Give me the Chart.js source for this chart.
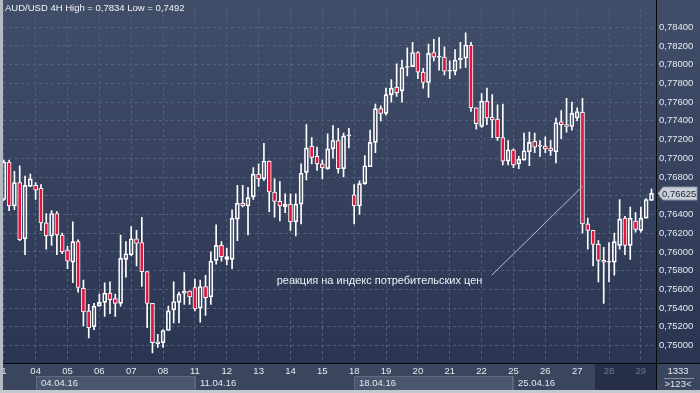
<!DOCTYPE html>
<html>
<head>
<meta charset="utf-8">
<script src="https://cdn.jsdelivr.net/npm/chart.js@4.4.1/dist/chart.umd.min.js"></script>
<style>
  html, body { margin: 0; padding: 0; background: #3a465e; }
</style>
</head>
<body>
<canvas id="AudChart" width="700" height="393"></canvas>
<script>
// AUD/USD 4H candles, 01.04.16 - 29.04.16

const days = ['1','04','05','06','07','08','11','12','13','14','15','18','19','20','21','22','25','26','27','28','29'];
const dayCandles = [6,6,6,6,6,6,6,6,6,6,6,6,6,6,6,6,6,6,6,6,3];
const weeks = ['04.04.16','11.04.16','18.04.16','25.04.16'];
const weekStartDay = [1, 6, 11, 16];

const open = [
  0.7656,0.7696,0.7649,0.7674,0.7614,0.7670, 0.7671,0.7668,0.7631,0.7617,0.7641,0.7618,
  0.7602,0.7589,0.7611,0.7561,0.7537,0.7520, 0.7542,0.7546,0.7556,0.7550,0.7545,0.7592,
  0.7597,0.7614,0.7610,0.7579,0.7545,0.7502, 0.7503,0.7516,0.7538,0.7546,0.7556,0.7558,
  0.7562,0.7540,0.7563,0.7552,0.7591,0.7607, 0.7592,0.7592,0.7635,0.7652,0.7649,0.7659,
  0.7683,0.7678,0.7697,0.7664,0.7654,0.7648, 0.7651,0.7632,0.7651,0.7685,0.7713,0.7702,
  0.7694,0.7689,0.7710,0.7719,0.7689,0.7724, 0.7661,0.7649,0.7673,0.7691,0.7717,0.7753,
  0.7748,0.7768,0.7776,0.7772,0.7797,0.7798, 0.7813,0.7792,0.7781,0.7813,0.7808,0.7808,
  0.7793,0.7793,0.7805,0.7807,0.7821,0.7754, 0.7734,0.7761,0.7744,0.7742,0.7722,0.7697,
  0.7709,0.7694,0.7698,0.7707,0.7718,0.7713, 0.7713,0.7711,0.7707,0.7739,0.7736,0.7734,
  0.7743,0.7749,0.7630,0.7623,0.7608,0.7591, 0.7589,0.7589,0.7607,0.7636,0.7607,0.7633,
  0.7623,0.7636,0.7655
];
const high = [
  0.7698,0.7698,0.7686,0.7692,0.7681,0.7683, 0.7674,0.7672,0.7641,0.7644,0.7643,0.7620,
  0.7606,0.7632,0.7613,0.7570,0.7544,0.7545, 0.7555,0.7567,0.7568,0.7555,0.7618,0.7611,
  0.7627,0.7623,0.7637,0.7579,0.7545,0.7512, 0.7517,0.7542,0.7568,0.7557,0.7578,0.7558,
  0.7571,0.7570,0.7575,0.7600,0.7629,0.7611, 0.7604,0.7645,0.7671,0.7671,0.7669,0.7690,
  0.7694,0.7716,0.7697,0.7678,0.7675,0.7662, 0.7662,0.7662,0.7694,0.7736,0.7722,0.7712,
  0.7698,0.7726,0.7735,0.7732,0.7727,0.7732, 0.7672,0.7676,0.7703,0.7730,0.7758,0.7756,
  0.7775,0.7784,0.7801,0.7805,0.7818,0.7824, 0.7814,0.7796,0.7822,0.7827,0.7829,0.7819,
  0.7804,0.7816,0.7824,0.7834,0.7824,0.7754, 0.7769,0.7775,0.7768,0.7757,0.7758,0.7719,
  0.7710,0.7702,0.7727,0.7728,0.7727,0.7719, 0.7723,0.7719,0.7743,0.7751,0.7764,0.7760,
  0.7754,0.7764,0.7636,0.7623,0.7612,0.7605, 0.7610,0.7620,0.7656,0.7638,0.7648,0.7642,
  0.7648,0.7657,0.7667
];
const low = [
  0.7655,0.7644,0.7645,0.7612,0.7597,0.7670, 0.7656,0.7623,0.7603,0.7607,0.7597,0.7598,
  0.7582,0.7567,0.7557,0.7521,0.7508,0.7517, 0.7542,0.7531,0.7534,0.7531,0.7542,0.7573,
  0.7596,0.7585,0.7563,0.7519,0.7492,0.7498, 0.7498,0.7516,0.7524,0.7524,0.7544,0.7544,
  0.7537,0.7525,0.7532,0.7544,0.7587,0.7590, 0.7586,0.7582,0.7612,0.7648,0.7618,0.7656,
  0.7670,0.7676,0.7643,0.7637,0.7633,0.7642, 0.7623,0.7617,0.7630,0.7677,0.7694,0.7687,
  0.7678,0.7688,0.7700,0.7684,0.7680,0.7711, 0.7630,0.7640,0.7672,0.7691,0.7706,0.7740,
  0.7746,0.7760,0.7766,0.7760,0.7788,0.7798, 0.7785,0.7775,0.7765,0.7804,0.7794,0.7789,
  0.7785,0.7789,0.7796,0.7797,0.7750,0.7731, 0.7733,0.7736,0.7722,0.7719,0.7693,0.7693,
  0.7690,0.7689,0.7698,0.7692,0.7706,0.7702, 0.7706,0.7703,0.7695,0.7721,0.7728,0.7730,
  0.7740,0.7620,0.7603,0.7585,0.7568,0.7545, 0.7568,0.7575,0.7603,0.7597,0.7592,0.7621,
  0.7621,0.7636,0.7655
];
const close = [
  0.7696,0.7649,0.7674,0.7613,0.7671,0.7678, 0.7666,0.7631,0.7617,0.7641,0.7618,0.7600,
  0.7590,0.7611,0.7562,0.7536,0.7519,0.7542, 0.7546,0.7556,0.7549,0.7545,0.7593,0.7598,
  0.7614,0.7609,0.7579,0.7545,0.7503,0.7504, 0.7516,0.7537,0.7547,0.7555,0.7558,0.7552,
  0.7539,0.7563,0.7551,0.7590,0.7607,0.7595, 0.7595,0.7636,0.7652,0.7649,0.7658,0.7683,
  0.7678,0.7697,0.7664,0.7654,0.7649,0.7651, 0.7632,0.7651,0.7684,0.7711,0.7701,0.7694,
  0.7690,0.7710,0.7719,0.7689,0.7724,0.7725, 0.7649,0.7673,0.7692,0.7717,0.7753,0.7748,
  0.7768,0.7775,0.7770,0.7797,0.7798,0.7813, 0.7792,0.7781,0.7812,0.7808,0.7809,0.7793,
  0.7794,0.7805,0.7807,0.7821,0.7754,0.7737, 0.7761,0.7743,0.7741,0.7722,0.7697,0.7709,
  0.7693,0.7699,0.7708,0.7717,0.7712,0.7714, 0.7710,0.7708,0.7738,0.7736,0.7734,0.7748,
  0.7750,0.7630,0.7623,0.7608,0.7591,0.7589, 0.7590,0.7611,0.7635,0.7607,0.7636,0.7624,
  0.7636,0.7656,0.76625
];

const yTicks = [0.750,0.752,0.754,0.756,0.758,0.760,0.762,0.764,0.766,0.768,0.770,0.772,0.774,0.776,0.778,0.780,0.782,0.784];

const title = 'AUD/USD 4H High = 0,7834 Low = 0,7492';
const note = 'реакция на индекс потребительских цен';
// note anchor: text start (candle index, price) and arrow tip
const noteText = [51.4, 0.7569];
const noteFrom = [91.9, 0.7575];
const noteTo = [109, 0.7670];

// derived
const idx = open.map((v, i) => i);
const dayStart = [];
let n = 0;
dayCandles.forEach(c => { dayStart.push(n); n += c; });

const RED = '#e0163e';
const bodies = idx.map(i => ({ x: i, y: [open[i], close[i]] }));
const upperWicks = idx.map(i => ({ x: i, y: [Math.max(open[i], close[i]), high[i]] }));
const lowerWicks = idx.map(i => ({ x: i, y: [low[i], Math.min(open[i], close[i])] }));
const bodyFill = idx.map(i => close[i] < open[i] ? RED : 'rgba(0,0,0,0)');

const FONT = { family: 'Liberation Sans, Arial, sans-serif', size: 9.5 };
const fmt = v => v.toFixed(5).replace('.', ',');

const frame = {
  id: 'frame',
  beforeDraw(chart) {
    const ctx = chart.ctx, a = chart.chartArea, W = chart.width, H = chart.height;
    const xs = chart.scales.x;
    ctx.save();
    ctx.fillStyle = '#3a465e';
    ctx.fillRect(0, 0, W, H);
    const g = ctx.createLinearGradient(0, 0, 0, a.bottom);
    g.addColorStop(0, '#414e69');
    g.addColorStop(1, '#2a3552');
    ctx.fillStyle = g;
    ctx.fillRect(0, 0, W, a.bottom);
    // week boxes
    const darkLeft = a.right - 61;
    weeks.forEach((w, k) => {
      const x0 = Math.round(xs.getPixelForValue(dayStart[weekStartDay[k]]));
      const x1 = k + 1 < weeks.length ? Math.round(xs.getPixelForValue(dayStart[weekStartDay[k + 1]])) : darkLeft;
      if (k % 2 === 0) {
        ctx.fillStyle = '#4a566e';
        ctx.fillRect(x0, 376, x1 - x0, 14);
        ctx.strokeStyle = '#5f6a82';
        ctx.lineWidth = 1;
        ctx.strokeRect(x0 + 0.5, 376.5, x1 - x0 - 1, 14);
      } else {
        ctx.strokeStyle = '#56617a';
        ctx.beginPath();
        ctx.moveTo(x0 + 0.5, 376); ctx.lineTo(x0 + 0.5, 390);
        ctx.stroke();
      }
      ctx.fillStyle = '#e4e8ef';
      ctx.font = '9.5px Liberation Sans, Arial, sans-serif';
      ctx.textBaseline = 'middle';
      ctx.textAlign = 'left';
      ctx.fillText(w, x0 + 5, 383);
    });
    ctx.fillStyle = '#262f47';
    ctx.fillRect(darkLeft, a.bottom + 1, a.right - darkLeft, 390 - a.bottom - 1);
    ctx.restore();
  },
  afterDraw(chart) {
    const ctx = chart.ctx, a = chart.chartArea, W = chart.width, H = chart.height;
    const xs = chart.scales.x, ys = chart.scales.y;
    ctx.save();
    // axis lines
    ctx.strokeStyle = '#05070c';
    ctx.lineWidth = 1;
    ctx.beginPath();
    ctx.moveTo(0, a.bottom + 0.5); ctx.lineTo(W, a.bottom + 0.5);
    ctx.moveTo(a.right + 0.5, 0); ctx.lineTo(a.right + 0.5, 390);
    ctx.stroke();
    // outer frame
    ctx.fillStyle = '#b4b9c3';
    ctx.fillRect(0, 0, 3, H);
    ctx.fillStyle = '#c4c8cf';
    ctx.fillRect(0, 390, W, 3);

    ctx.font = '9.5px Liberation Sans, Arial, sans-serif';
    ctx.textBaseline = 'middle';
    // title
    ctx.fillStyle = '#f2f4f7';
    ctx.textAlign = 'left';
    ctx.fillText(title, 5, 8);

    // note + arrow
    ctx.font = '11px Liberation Sans, Arial, sans-serif';
    ctx.fillStyle = '#eef1f5';
    ctx.fillText(note, xs.getPixelForValue(noteText[0]), ys.getPixelForValue(noteText[1]));
    ctx.strokeStyle = '#b6bcc8';
    ctx.beginPath();
    ctx.moveTo(xs.getPixelForValue(noteFrom[0]), ys.getPixelForValue(noteFrom[1]));
    ctx.lineTo(xs.getPixelForValue(noteTo[0]), ys.getPixelForValue(noteTo[1]));
    ctx.stroke();

    // last price tag
    const last = close[close.length - 1];
    const py = Math.round(ys.getPixelForValue(last)) + 0.5;
    const x0 = a.right + 2;
    ctx.fillStyle = '#c9ced8';
    ctx.strokeStyle = '#8d96a8';
    ctx.beginPath();
    ctx.moveTo(x0, py);
    ctx.lineTo(x0 + 5, py - 6.5);
    ctx.lineTo(W - 3, py - 6.5);
    ctx.lineTo(W - 3, py + 6.5);
    ctx.lineTo(x0 + 5, py + 6.5);
    ctx.closePath();
    ctx.fill();
    ctx.stroke();
    ctx.fillStyle = '#1f2739';
    ctx.font = '9.5px Liberation Sans, Arial, sans-serif';
    ctx.fillText(fmt(last), x0 + 4, py + 0.5);

    // corner counters
    ctx.fillStyle = '#e4e8ef';
    ctx.textAlign = 'center';
    const cx = (a.right + W) / 2;
    ctx.fillText('1333', cx, 371);
    ctx.fillText('>123<', cx, 384);
    ctx.strokeStyle = '#8a94a8';
    ctx.beginPath();
    ctx.moveTo(a.right + 8, 378.5); ctx.lineTo(W - 6, 378.5);
    ctx.stroke();
    ctx.restore();
  }
};

const candleChart = new Chart(document.getElementById('AudChart'), {
  type: 'bar',
  data: {
    datasets: [
      { data: upperWicks, backgroundColor: '#ffffff', barThickness: 1, grouped: false, borderWidth: 0 },
      { data: lowerWicks, backgroundColor: '#ffffff', barThickness: 1, grouped: false, borderWidth: 0 },
      { data: bodies, backgroundColor: bodyFill, borderColor: '#ffffff', borderWidth: 1,
        borderSkipped: false, barThickness: 4, grouped: false }
    ]
  },
  options: {
    responsive: false,
    animation: false,
    layout: { padding: { left: 3, right: 0, top: 0, bottom: 0 } },
    plugins: { legend: { display: false }, tooltip: { enabled: false } },
    scales: {
      x: {
        type: 'linear',
        offset: false,
        min: -0.15,
        max: 122.85,
        afterBuildTicks: s => { s.ticks = dayStart.map(v => ({ value: v })); },
        afterFit: s => { s.height = 30; s.paddingLeft = 0; s.paddingRight = 0; },
        grid: { color: '#55617b', drawTicks: false, offset: false },
        border: { display: false, dash: [3, 3] },
        ticks: {
          autoSkip: false, maxRotation: 0, padding: 3, font: FONT,
          color: c => c.index >= 19 ? '#6c778d' : '#e6eaf0',
          callback: (v, i) => days[i]
        }
      },
      y: {
        position: 'right',
        min: 0.74813,
        max: 0.78598,
        afterBuildTicks: s => { s.ticks = yTicks.map(v => ({ value: v })); },
        afterFit: s => { s.width = 44; },
        grid: { color: '#55617b', drawTicks: false },
        border: { display: false, dash: [3, 3] },
        ticks: { padding: 3, font: FONT, color: '#e6eaf0', callback: v => fmt(v) }
      }
    }
  },
  plugins: [frame]
});
</script>
</body>
</html>
